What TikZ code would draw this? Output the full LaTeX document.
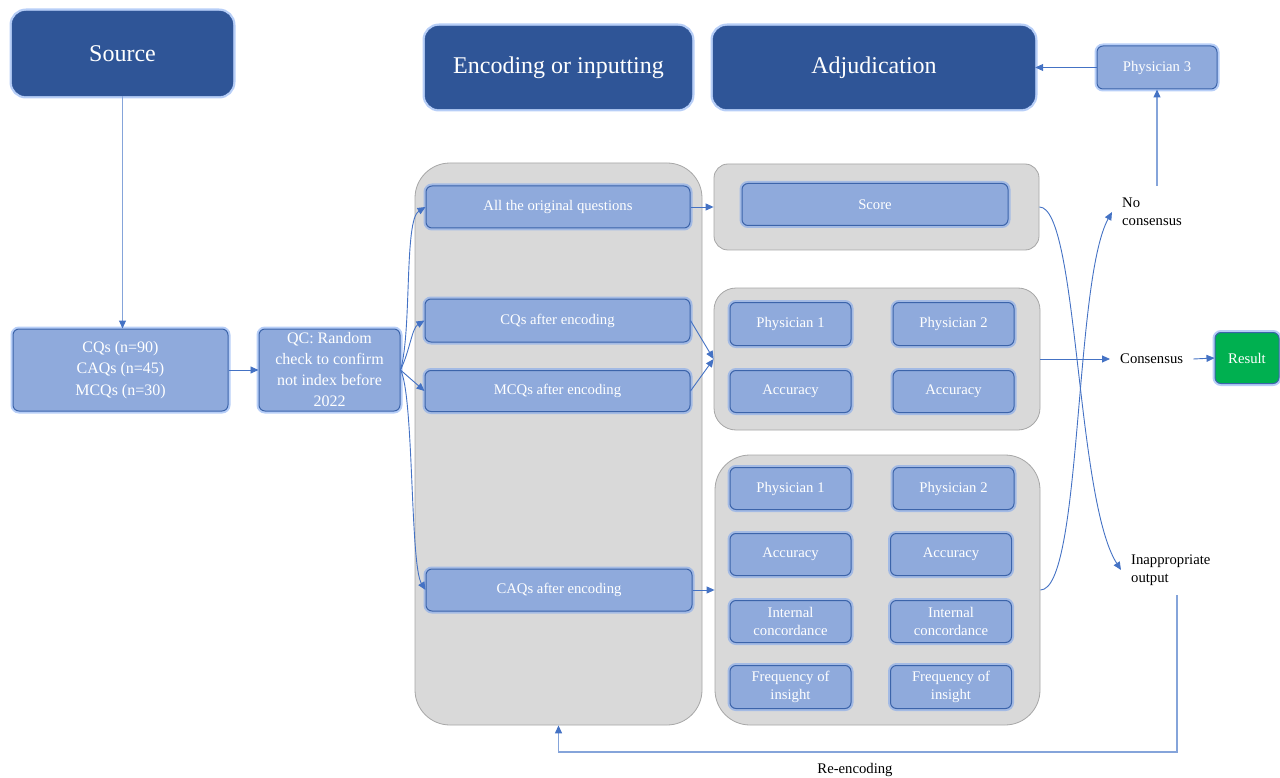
\documentclass[tikz,border=0pt]{standalone}
\usepackage{fontspec}
\setmainfont{Liberation Serif}
\usetikzlibrary{arrows.meta,calc}
\definecolor{dkblue}{HTML}{2F5597}
\definecolor{ltblue}{HTML}{8FAADC}
\definecolor{bdblue}{HTML}{3C64AA}
\definecolor{glowc}{HTML}{6F9DF0}
\definecolor{panelf}{HTML}{D9D9D9}
\definecolor{paneld}{HTML}{A6A6A6}
\definecolor{arrc}{HTML}{4472C4}
\definecolor{linec}{HTML}{85A4DA}
\definecolor{resg}{HTML}{00B050}
\tikzset{
 glow/.style={preaction={draw=glowc, line width=5pt, opacity=0.5}},
 header/.style={glow, rectangle, rounded corners=14pt, fill=dkblue, draw=dkblue, text=white, font=\fontsize{24}{28}\selectfont, inner sep=0pt},
 lbox/.style={glow, rectangle, rounded corners=6pt, fill=ltblue, draw=bdblue, line width=1pt, text=white, font=\fontsize{14.7}{18.5}\selectfont, align=center, inner sep=0pt, minimum width=121pt, minimum height=42pt},
 mbox/.style={lbox, font=\fontsize{16}{21.5}\selectfont},
 panel/.style={rectangle, fill=panelf, draw=paneld, line width=0.8pt, inner sep=0pt},
 lbl/.style={text=black, font=\fontsize{14.7}{17.5}\selectfont, align=left, inner xsep=10pt, inner ysep=2pt},
 arr/.style={draw=arrc, line width=0.9pt, -{Triangle[length=8pt,width=7pt]}},
 arrl/.style={draw=linec, line width=1.2pt, -{Triangle[length=8pt,width=7pt,color=arrc]}},
}
\begin{document}
\begin{tikzpicture}[x=1pt,y=-1pt]
\useasboundingbox (0,0) rectangle (1280,778);
% headers
\node[header, minimum width=221pt, minimum height=85pt] (src) at (122.5,53.5) {Source};
\node[header, minimum width=267pt, minimum height=83pt] (enc) at (558.5,67.5) {Encoding or inputting};
\node[header, minimum width=322pt, minimum height=83pt] (adj) at (874,67.5) {Adjudication};
\node[lbox, minimum width=120pt, minimum height=43pt] (ph3) at (1157,67.5) {Physician 3};
% left boxes
\node[mbox, minimum width=215pt, minimum height=82pt] (cnt) at (120.5,370) {CQs (n=90)\\CAQs (n=45)\\MCQs (n=30)};
\node[mbox, minimum width=141pt, minimum height=82pt, font=\fontsize{16}{21}\selectfont] (qc) at (329.5,370) {QC: Random\\check to confirm\\not index before\\2022};
% panels
\node[panel, rounded corners=35pt, minimum width=287pt, minimum height=562pt] (pan1) at (558.5,444) {};
\node[panel, rounded corners=14pt, minimum width=325pt, minimum height=86pt] (pan2) at (876.5,207) {};
\node[panel, rounded corners=22pt, minimum width=326pt, minimum height=142pt] (pan3) at (877,359) {};
\node[panel, rounded corners=35pt, minimum width=325pt, minimum height=270pt] (pan4) at (877.5,590) {};
% encoding boxes
\node[lbox, minimum width=264pt] (allq) at (558,207) {All the original questions};
\node[lbox, minimum width=265pt, minimum height=43pt] (cqe) at (557.5,320.5) {CQs after encoding};
\node[lbox, minimum width=265pt, minimum height=41pt] (mcqe) at (557.5,391) {MCQs after encoding};
\node[lbox, minimum width=266pt] (caqe) at (559,590) {CAQs after encoding};
% adjudication boxes
\node[lbox, minimum width=266pt] (score) at (875,204.5) {Score};
\node[lbox, minimum height=43pt] (p3a) at (790.5,324) {Physician 1};
\node[lbox, minimum height=43pt] (p3b) at (953.5,324) {Physician 2};
\node[lbox] (a3a) at (790.5,391.5) {Accuracy};
\node[lbox] (a3b) at (953.5,391.5) {Accuracy};
\node[lbox] (p4a) at (790.5,488.5) {Physician 1};
\node[lbox] (p4b) at (953.5,488.5) {Physician 2};
\node[lbox] (a4a) at (790.5,554.5) {Accuracy};
\node[lbox] (a4b) at (951,554.5) {Accuracy};
\node[lbox] (i4a) at (790.5,621.5) {Internal\\concordance};
\node[lbox] (i4b) at (951,621.5) {Internal\\concordance};
\node[lbox, minimum height=43pt] (f4a) at (790.5,687) {Frequency of\\insight};
\node[lbox, minimum height=43pt] (f4b) at (951,687) {Frequency of\\insight};
% result and labels
\node[glow, rectangle, rounded corners=6pt, fill=resg, draw=bdblue, line width=1pt, text=white, font=\fontsize{14.7}{18}\selectfont, minimum width=64pt, minimum height=51pt, inner sep=0pt] (res) at (1247,358) {Result};
\node[lbl, anchor=west] (noc) at (1112,212) {No\\consensus};
\node[lbl, anchor=west] (cons) at (1110,359) {Consensus};
\node[lbl, anchor=west] (inap) at (1121,570) {Inappropriate\\output};
\node[lbl, align=center] (reenc) at (855,770) {Re-encoding};
\coordinate (fbs) at (1177,595);
\coordinate (fbc) at (1177,752);
% connectors
\draw[arrl] (src.south) -- (src.south |- cnt.north);
\draw[arr] (cnt.east) -- (qc.west);
\draw[arr] (qc.east) .. controls (412,330) and (404,220) .. (allq.west);
\draw[arr] (qc.east) .. controls (410,350) and (412,328) .. (cqe.west);
\draw[arr] (qc.east) -- (mcqe.west);
\draw[arr] (qc.east) .. controls (414,395) and (410,565) .. (caqe.west);
\draw[arr] (allq.east) -- (pan2.west);
\draw[arr] (cqe.east) -- (pan3.west);
\draw[arr] (mcqe.east) -- (pan3.west);
\draw[arr] (caqe.east) -- (pan4.west);
\draw[arr] (pan2.east) .. controls (1078,207) and (1076,500) .. (inap.west);
\draw[arr] (pan4.east) .. controls (1082,590) and (1074,280) .. (noc.west);
\draw[arr] (pan3.east) -- (cons.west);
\draw[arr] (cons.east) -- (res.west);
\draw[arrl] ($(ph3.south |- noc.north)+(0,-10)$) -- (ph3.south);
\draw[arr] (ph3.west) -- (adj.east);
\draw[arrl] (fbs) -- (fbc) -| (pan1.south);
\end{tikzpicture}
\end{document}
